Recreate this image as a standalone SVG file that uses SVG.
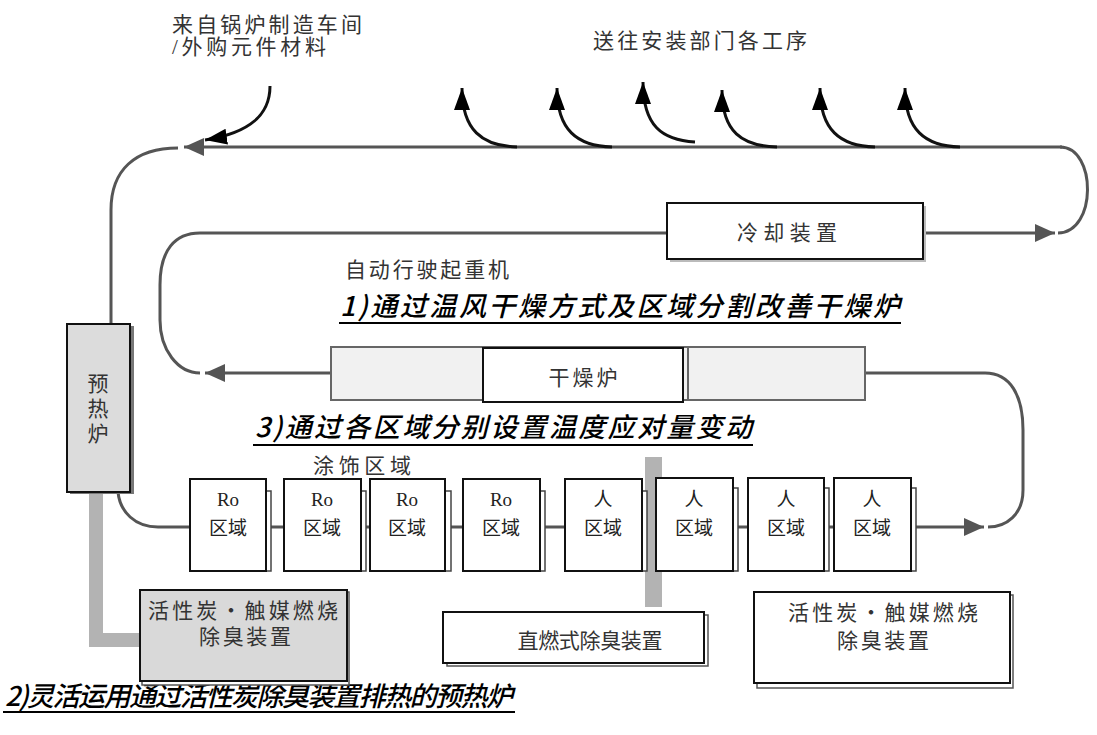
<svg xmlns="http://www.w3.org/2000/svg" width="1097" height="735" viewBox="0 0 1097 735">
<style>
.lbl{font-family:"Liberation Serif","Noto Sans CJK SC",serif;font-size:21px;fill:#333}
.zt{font-family:"Liberation Serif","Noto Sans CJK SC",serif;font-size:19px;fill:#222;text-anchor:middle}
.hd{font-family:"Noto Sans CJK SC",sans-serif;font-style:italic;font-weight:500;font-size:27px;fill:#000}
.ul{stroke:#000;stroke-width:2}
.ln{fill:none;stroke:#555;stroke-width:3}
.lb{fill:none;stroke:#111;stroke-width:3}
.box{fill:#fff;stroke:#111;stroke-width:2}
.shd{fill:#fff;stroke:#444;stroke-width:1.5}
.gbar{fill:none;stroke:#b3b3b3;stroke-width:14}
</style>
<defs>
<marker id="ah" markerWidth="22" markerHeight="18" refX="20" refY="9" orient="auto" markerUnits="userSpaceOnUse"><path d="M0,0 L20,9 L0,18 Z" fill="#555"/></marker>
<marker id="ahb" markerWidth="24" markerHeight="18" refX="22" refY="9" orient="auto" markerUnits="userSpaceOnUse"><path d="M0,1 L22,9 L0,17 Z" fill="#000"/></marker>
</defs>

<g id="connectors">
<path class="ln" d="M1062,147 L184,147" marker-end="url(#ah)"/>
<path class="ln" d="M178,148 C135,148 111,170 111,210 L111,323"/>
<path class="ln" d="M1060,147 C1097,147 1097,233 1058,233"/>
<path class="ln" d="M923,233 L1055,233" marker-end="url(#ah)"/>
<path class="ln" d="M667,233 L200,233 C175,233 160,250 160,285 L160,320 C160,350 178,373 200,373"/>
<path class="ln" d="M331,373 L205,373" marker-end="url(#ah)"/>
<path class="ln" d="M865,373 L985,373 C1010,373 1023,395 1023,430 L1023,490 C1023,515 1006,527 988,527"/>
<path class="ln" d="M118,492 C120,512 135,527 158,527 L190,527"/>
<path class="ln" d="M266,527 L284,527 M361,527 L370,527 M445,527 L463,527 M540,527 L565,527 M642,527 L656,527 M733,527 L748,527 M824,527 L834,527"/>
<path class="ln" d="M911,527 L984,527" marker-end="url(#ah)"/>
<path class="lb" d="M270,86 C270,115 250,133 205,140" marker-end="url(#ahb)"/>
<path class="lb" d="M517,147 C482,146 462,130 462,88" marker-end="url(#ahb)"/>
<path class="lb" d="M612,147 C577,146 557,130 557,88" marker-end="url(#ahb)"/>
<path class="lb" d="M695,142 C662,140 643,126 643,82" marker-end="url(#ahb)"/>
<path class="lb" d="M777,147 C742,146 722,132 722,90" marker-end="url(#ahb)"/>
<path class="lb" d="M875,147 C840,146 820,130 820,88" marker-end="url(#ahb)"/>
<path class="lb" d="M960,147 C925,146 905,130 905,88" marker-end="url(#ahb)"/>
<path class="gbar" d="M96,492 L96,640 L141,640"/>
<rect x="645" y="457" width="17" height="150" fill="#b3b3b3"/>
</g>

<g id="labels">
<text class="lbl" x="172" y="32" textLength="190" lengthAdjust="spacing">来自锅炉制造车间</text>
<text class="lbl" x="172" y="54" textLength="154" lengthAdjust="spacing">/外购元件材料</text>
<text class="lbl" x="593" y="48" textLength="214" lengthAdjust="spacing">送往安装部门各工序</text>
<text class="lbl" x="345" y="277" textLength="164" lengthAdjust="spacing">自动行驶起重机</text>
<text class="lbl" x="313" y="473" textLength="98" lengthAdjust="spacing">涂饰区域</text>
<text class="hd" x="340" y="316" textLength="560" lengthAdjust="spacing">1)通过温风干燥方式及区域分割改善干燥炉</text>
<line class="ul" x1="339" y1="323" x2="901" y2="323"/>
<text class="hd" x="255" y="437" textLength="497" lengthAdjust="spacing">3)通过各区域分别设置温度应对量变动</text>
<line class="ul" x1="253" y1="445" x2="753" y2="445"/>
<text class="hd" x="5" y="706" font-size="23" textLength="508" lengthAdjust="spacing">2)灵活运用通过活性炭除臭装置排热的预热炉</text>
<line class="ul" x1="3" y1="712" x2="515" y2="712"/>
</g>

<g id="cooler">
<rect x="670" y="206" width="256" height="56" fill="#bbb"/>
<rect class="box" x="667" y="203" width="256" height="56"/>
<text class="lbl" x="787" y="240" text-anchor="middle" textLength="100" lengthAdjust="spacing">冷却装置</text>
</g>

<g id="preheat">
<rect x="70" y="326" width="64" height="168" fill="#777"/>
<rect x="67" y="324" width="63" height="168" fill="#dcdcdc" stroke="#111" stroke-width="2"/>
<text class="lbl" x="98" y="391" text-anchor="middle">预</text>
<text class="lbl" x="98" y="416" text-anchor="middle">热</text>
<text class="lbl" x="98" y="441" text-anchor="middle">炉</text>
</g>

<g id="dryer">
<rect x="331" y="347" width="534" height="53" fill="#f1f1f1" stroke="#666" stroke-width="2"/>
<line x1="688" y1="347" x2="688" y2="400" stroke="#666" stroke-width="2"/>
<rect x="483" y="348" width="200" height="54" fill="#fff" stroke="#111" stroke-width="2"/>
<text class="lbl" x="583" y="385" text-anchor="middle" textLength="69" lengthAdjust="spacing">干燥炉</text>
</g>

<g id="zone1"><rect class="shd" x="195" y="491" width="76" height="80"/><rect class="box" x="190" y="479" width="76" height="92"/><text class="zt" x="228" y="506">Ro</text><text class="zt" x="228" y="535">区域</text></g>
<g id="zone2"><rect class="shd" x="289" y="491" width="77" height="80"/><rect class="box" x="284" y="479" width="77" height="92"/><text class="zt" x="322" y="506">Ro</text><text class="zt" x="322" y="535">区域</text></g>
<g id="zone3"><rect class="shd" x="375" y="491" width="76" height="80"/><rect class="box" x="370" y="479" width="75" height="92"/><text class="zt" x="407" y="506">Ro</text><text class="zt" x="407" y="535">区域</text></g>
<g id="zone4"><rect class="shd" x="468" y="491" width="77" height="80"/><rect class="box" x="463" y="479" width="77" height="92"/><text class="zt" x="501" y="506">Ro</text><text class="zt" x="501" y="535">区域</text></g>
<g id="zone5"><rect class="shd" x="570" y="491" width="77" height="80"/><rect class="box" x="565" y="479" width="77" height="92"/><text class="zt" x="603" y="506">人</text><text class="zt" x="603" y="535">区域</text></g>
<g id="zone6"><rect class="shd" x="661" y="488" width="77" height="83"/><rect class="box" x="656" y="478" width="77" height="93"/><text class="zt" x="694" y="506">人</text><text class="zt" x="694" y="535">区域</text></g>
<g id="zone7"><rect class="shd" x="753" y="488" width="76" height="83"/><rect class="box" x="748" y="478" width="76" height="93"/><text class="zt" x="786" y="506">人</text><text class="zt" x="786" y="535">区域</text></g>
<g id="zone8"><rect class="shd" x="839" y="488" width="77" height="83"/><rect class="box" x="834" y="478" width="77" height="93"/><text class="zt" x="872" y="506">人</text><text class="zt" x="872" y="535">区域</text></g>

<g id="deodor-left">
<rect x="142" y="592" width="207" height="93" fill="#fff" stroke="#555" stroke-width="1.5"/>
<rect x="140" y="590" width="207" height="91" fill="#d9d9d9" stroke="#111" stroke-width="2"/>
<text class="lbl" x="243" y="618" text-anchor="middle" textLength="190" lengthAdjust="spacing">活性炭・触媒燃烧</text>
<text class="lbl" x="245" y="644" text-anchor="middle" textLength="92" lengthAdjust="spacing">除臭装置</text>
</g>

<g id="deodor-mid">
<rect x="447" y="615" width="261" height="51" fill="#fff" stroke="#555" stroke-width="1.5"/>
<rect class="box" x="443" y="612" width="261" height="51"/>
<text class="lbl" x="590" y="648" text-anchor="middle" textLength="145" lengthAdjust="spacing">直燃式除臭装置</text>
</g>

<g id="deodor-right">
<rect x="757" y="595" width="256" height="93" fill="#fff" stroke="#555" stroke-width="1.5"/>
<rect class="box" x="754" y="592" width="256" height="91"/>
<text class="lbl" x="883" y="620" text-anchor="middle" textLength="190" lengthAdjust="spacing">活性炭・触媒燃烧</text>
<text class="lbl" x="883" y="648" text-anchor="middle" textLength="92" lengthAdjust="spacing">除臭装置</text>
</g>
</svg>
